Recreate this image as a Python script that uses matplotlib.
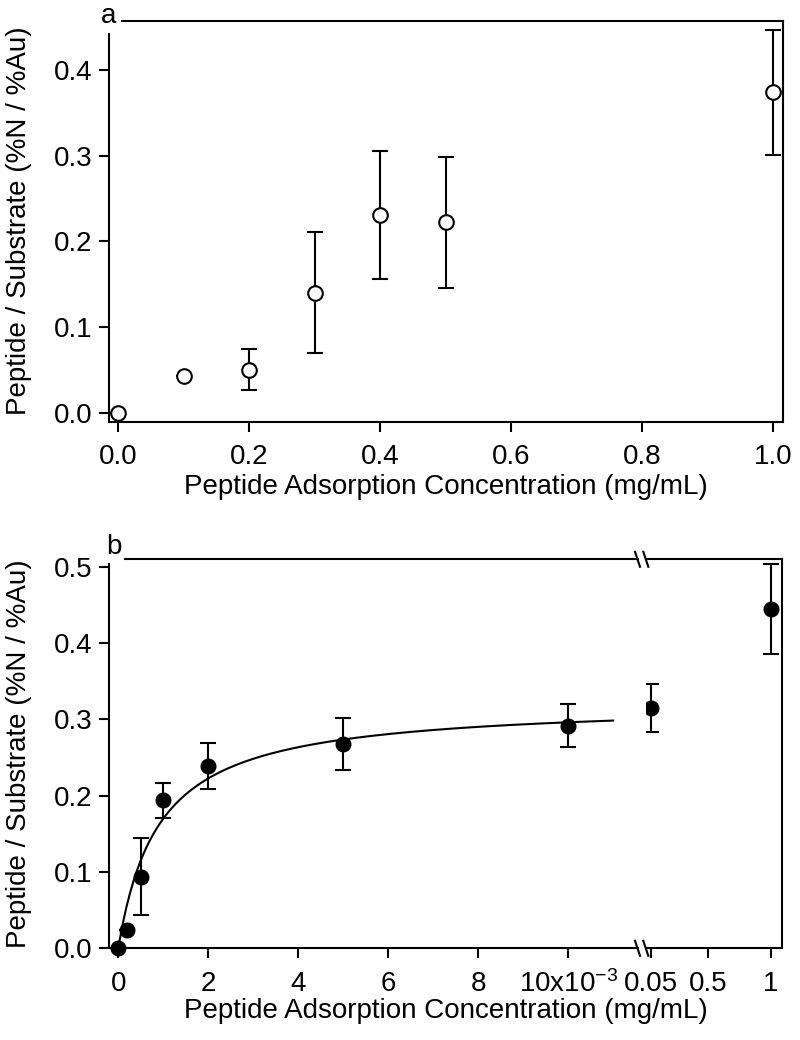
import matplotlib
matplotlib.use("Agg")
import matplotlib.pyplot as plt
from matplotlib.lines import Line2D
import numpy as np

plt.rcParams['font.family'] = ['Liberation Sans', 'DejaVu Sans']
plt.rcParams['mathtext.default'] = 'regular'
plt.rcParams['font.size'] = 20
plt.rcParams['axes.linewidth'] = 1.5

# panel a data
conc_a = [0.0, 0.1, 0.2, 0.3, 0.4, 0.5, 1.0]
ratio_a = [0.0, 0.043, 0.050, 0.140, 0.231, 0.222, 0.374]
err_a = [0.0, 0.0, 0.024, 0.071, 0.075, 0.076, 0.073]

# panel b, low range (x10^-3 mg/mL)
conc_b = [0.0, 0.2, 0.5, 1.0, 2.0, 5.0, 10.0]
ratio_b = [0.0, 0.024, 0.094, 0.194, 0.239, 0.268, 0.292]
err_b = [0.0, 0.0, 0.050, 0.023, 0.030, 0.034, 0.028]

# panel b, high range (mg/mL)
conc_b2 = [0.05, 1.0]
ratio_b2 = [0.315, 0.445]
err_b2 = [0.032, 0.059]

# Langmuir fit shown in b
fit_bmax = 0.323
fit_kd = 0.90
fit_xmax = 11.0

xlab = 'Peptide Adsorption Concentration (mg/mL)'
ylab = 'Peptide / Substrate (%N / %Au)'

W, H = 800, 1040


def box(l, t, r, b):
    # pixel edges -> figure fraction rect
    return [l / W, 1 - b / H, (r - l) / W, (b - t) / H]


def style(ax):
    ax.tick_params(direction='out', length=7.5, width=1.5, labelsize=20)
    ax.tick_params(axis='x', pad=8.5)
    ax.tick_params(axis='y', pad=4.5)


fig = plt.figure(figsize=(W / 100, H / 100), dpi=100)

# ---- panel a ----
ax1 = fig.add_axes(box(109, 20.6, 783, 422))
ax1.errorbar(conc_a, ratio_a, yerr=err_a, fmt='o', ms=10.5, mfc='white', mec='black',
             mew=1.5, ecolor='black', elinewidth=1.5, capsize=5.5, capthick=1.5)
ax1.set_xlim(-0.014, 1.015)
ax1.set_ylim(-0.011, 0.4577)
ax1.set_xticks([0.0, 0.2, 0.4, 0.6, 0.8, 1.0])
ax1.set_xticklabels(['0.0', '0.2', '0.4', '0.6', '0.8', '1.0'])
ax1.set_yticks([0.0, 0.1, 0.2, 0.3, 0.4])
ax1.set_yticklabels(['0.0', '0.1', '0.2', '0.3', '0.4'])
style(ax1)
fig.text(446 / W, 1 - 487 / H, xlab, ha='center', va='center', fontsize=20)
fig.text(19 / W, 1 - 221 / H, ylab, ha='center', va='center', rotation=90, fontsize=20)
fig.text(109 / W, 1 - 16 / H, 'a', ha='center', va='center', fontsize=20,
         bbox=dict(fc='white', ec='none', pad=3), zorder=10)

# ---- panel b ----
top_b, bot_b = 559.3, 948.3
brk_l, brk_r = 637.5, 645.8
ax2 = fig.add_axes(box(109.3, top_b, brk_l, bot_b))
ax3 = fig.add_axes(box(brk_r, top_b, 781.7, bot_b))

ax2.errorbar(conc_b, ratio_b, yerr=err_b, fmt='o', ms=10.5, mfc='black', mec='black',
             ecolor='black', elinewidth=1.5, capsize=5.5, capthick=1.5, zorder=3,
             clip_on=False)
xf = np.linspace(0, fit_xmax, 300)
ax2.plot(xf, fit_bmax * xf / (fit_kd + xf), color='black', lw=1.5)
ax2.set_xlim(-0.2, 11.54)
ax2.set_ylim(0, 0.51)
ax2.set_xticks([0, 2, 4, 6, 8, 10])
ax2.set_xticklabels(['0', '2', '4', '6', '8', '10x10$^{-3}$'])
ax2.set_yticks([0.0, 0.1, 0.2, 0.3, 0.4, 0.5])
ax2.set_yticklabels(['0.0', '0.1', '0.2', '0.3', '0.4', '0.5'])
ax2.spines['right'].set_visible(False)
style(ax2)

ax3.errorbar(conc_b2, ratio_b2, yerr=err_b2, fmt='o', ms=10.5, mfc='black', mec='black',
             ecolor='black', elinewidth=1.5, capsize=5.5, capthick=1.5, zorder=3)
ax3.set_xlim(0.0087, 1.087)
ax3.set_ylim(0, 0.51)
ax3.set_xticks([0.05, 0.5, 1])
ax3.set_xticklabels(['0.05', '0.5', '1'])
ax3.set_yticks([])
ax3.spines['left'].set_visible(False)
style(ax3)

fig.text(446 / W, 1 - 1011 / H, xlab, ha='center', va='center', fontsize=20)
fig.text(19 / W, 1 - 754 / H, ylab, ha='center', va='center', rotation=90, fontsize=20)
fig.text(114 / W, 1 - 547 / H, 'b', ha='center', va='center', fontsize=20,
         bbox=dict(fc='white', ec='none', pad=2), zorder=10)

# break marks
for xe in (brk_l, brk_r):
    for ye in (top_b, bot_b):
        fig.add_artist(Line2D([(xe - 2.5) / W, (xe + 2.5) / W],
                              [1 - (ye - 7.5) / H, 1 - (ye + 7.5) / H],
                              color='black', lw=1.5))

plt.savefig('out.png', dpi=100)
